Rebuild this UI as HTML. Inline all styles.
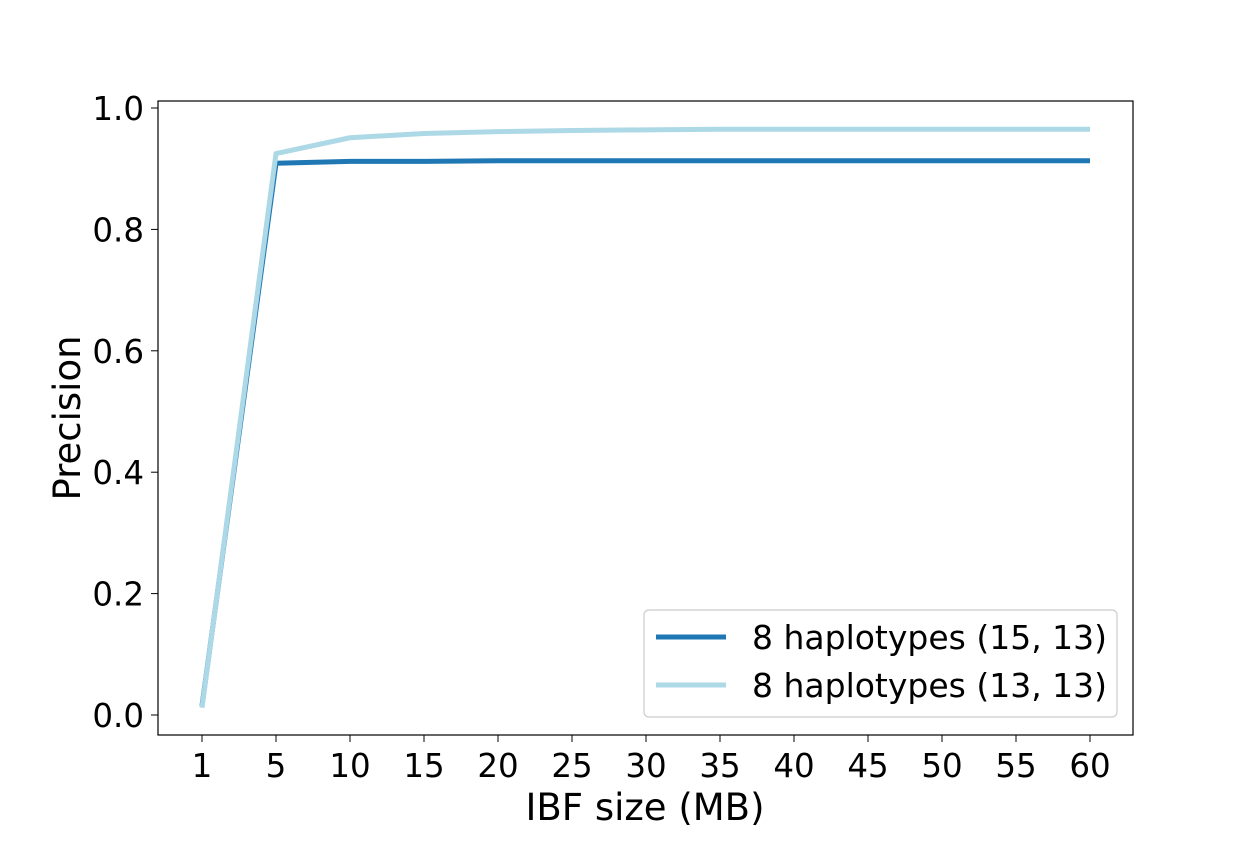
<!DOCTYPE html>
<html><head><meta charset="utf-8"><style>
body{margin:0;background:#fff;}
svg text{font-family:"DejaVu Sans","Liberation Sans",sans-serif;fill:#000;}
</style></head><body>
<svg id="chart" width="1260" height="840">
<rect width="1260" height="840" fill="#fff"/>
<g id="ticks"></g>
<g id="lines"></g>
<rect x="158" y="101" width="975" height="634" fill="none" stroke="#000" stroke-width="1.2"/>
<text x="645" y="820" font-size="37" text-anchor="middle">IBF size (MB)</text>
<text transform="translate(80,418) rotate(-90)" font-size="37" text-anchor="middle">Precision</text>
<g>
<rect x="644" y="610" width="473" height="107" rx="5" fill="#fff" stroke="#ccc" stroke-width="1.2"/>
<line x1="656" y1="637" x2="726" y2="637" stroke="#1f77b4" stroke-width="5"/>
<text x="752" y="649" font-size="33">8 haplotypes (15, 13)</text>
<line x1="656" y1="685" x2="726" y2="685" stroke="#add8e6" stroke-width="5"/>
<text x="752" y="697" font-size="33">8 haplotypes (13, 13)</text>
</g>
</svg>
<script>
const categories=["1","5","10","15","20","25","30","35","40","45","50","55","60"];
const series1513=[0.015,0.909,0.912,0.912,0.913,0.913,0.913,0.913,0.913,0.913,0.913,0.913,0.913];
const series1313=[0.012,0.925,0.951,0.958,0.961,0.963,0.964,0.965,0.965,0.965,0.965,0.965,0.965];
const yTicks=[0,0.2,0.4,0.6,0.8,1.0];
const yTickLabels=["0.0","0.2","0.4","0.6","0.8","1.0"];
const NS="http://www.w3.org/2000/svg";
function xs(i){return 202+i*(1090-202)/(categories.length-1);}
function ys(v){return 715-v*607;}
const tg=document.getElementById('ticks');
categories.forEach((c,i)=>{
 const l=document.createElementNS(NS,'line');
 l.setAttribute('x1',xs(i));l.setAttribute('x2',xs(i));l.setAttribute('y1',735);l.setAttribute('y2',742);l.setAttribute('stroke','#000');
 
 
 tg.appendChild(l);
 const t=document.createElementNS(NS,'text');
 t.setAttribute('x',xs(i));t.setAttribute('y',777);t.setAttribute('font-size','32.5');t.setAttribute('text-anchor','middle');t.textContent=c;
 
 
 tg.appendChild(t);
});
yTicks.forEach((v,i)=>{
 const l=document.createElementNS(NS,'line');
 l.setAttribute('x1',151);l.setAttribute('x2',158);l.setAttribute('y1',ys(v));l.setAttribute('y2',ys(v));l.setAttribute('stroke','#000');
 
 
 tg.appendChild(l);
 const t=document.createElementNS(NS,'text');
 t.setAttribute('x',144);t.setAttribute('y',ys(v)+12);t.setAttribute('font-size','32.5');t.setAttribute('text-anchor','end');t.textContent=yTickLabels[i];
 
 
 tg.appendChild(t);
});
const lg=document.getElementById('lines');
[[series1513,'#1f77b4','line-15-13'],[series1313,'#add8e6','line-13-13']].forEach(([s,col,name])=>{
 const p=document.createElementNS(NS,'polyline');
 p.setAttribute('points',s.map((v,i)=>xs(i)+','+ys(v)).join(' '));
 p.setAttribute('fill','none');p.setAttribute('stroke',col);p.setAttribute('stroke-width','5');p.setAttribute('stroke-linejoin','round');
 
 
 lg.appendChild(p);
});
</script>
</body></html>
